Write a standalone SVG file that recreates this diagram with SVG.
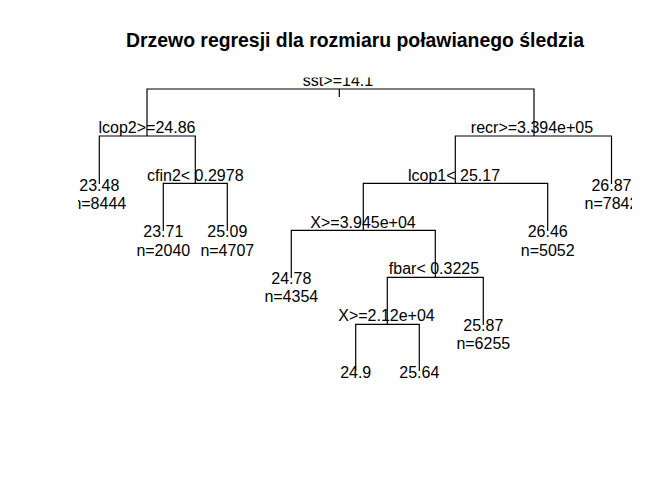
<svg xmlns="http://www.w3.org/2000/svg" width="672" height="480" viewBox="0 0 672 480">
<defs>
<clipPath id="plotclip"><rect x="78" y="77.5" width="554" height="306"/></clipPath>
<style>
.e{stroke:#000;stroke-width:1.2;fill:none}
text{font-family:"Liberation Sans",Arial,sans-serif;font-size:16px;fill:#000;text-anchor:middle}
.title{font-weight:bold;font-size:19.4px}
</style>
</defs>
<rect width="672" height="480" fill="#fff"/>
<text class="title" x="355" y="47">Drzewo regresji dla rozmiaru poławianego śledzia</text>
<g clip-path="url(#plotclip)">
<g id="connectors">
<path class="e" d="M339.3 89V97"/>
<path class="e" d="M147 136V89H534V136"/>
<path class="e" d="M99.3 184V136H195.3V183.3"/>
<path class="e" d="M163.3 231V183.3H227.3V231"/>
<path class="e" d="M455.3 183.3V136H611.5V184"/>
<path class="e" d="M363.3 230.3V183.3H547.7V231"/>
<path class="e" d="M291.3 278V230.3H435.3V277.3"/>
<path class="e" d="M387.3 324.3V277.3H483.3V325"/>
<path class="e" d="M355.7 371V324.3H419.3V371"/>
</g>
<g id="n_root"><text x="338" y="86">sst&gt;=14.1</text></g>
<g id="n_lcop2"><text x="147" y="133">lcop2&gt;=24.86</text></g>
<g id="n_leaf1"><text x="99.3" y="191">23.48</text><text x="99.3" y="209">n=8444</text></g>
<g id="n_cfin2"><text x="195.3" y="180.5">cfin2&lt; 0.2978</text></g>
<g id="n_leaf2"><text x="163.3" y="237">23.71</text><text x="163.3" y="256">n=2040</text></g>
<g id="n_leaf3"><text x="227.3" y="237">25.09</text><text x="227.3" y="256">n=4707</text></g>
<g id="n_recr"><text x="532" y="133">recr&gt;=3.394e+05</text></g>
<g id="n_leaf9"><text x="611.5" y="191">26.87</text><text x="611.5" y="209">n=7842</text></g>
<g id="n_lcop1"><text x="454" y="180.5">lcop1&lt; 25.17</text></g>
<g id="n_leaf8"><text x="547.7" y="237">26.46</text><text x="547.7" y="256">n=5052</text></g>
<g id="n_X1"><text x="363" y="227.5">X&gt;=3.945e+04</text></g>
<g id="n_leaf4"><text x="291.3" y="283.5">24.78</text><text x="291.3" y="302">n=4354</text></g>
<g id="n_fbar"><text x="434" y="274">fbar&lt; 0.3225</text></g>
<g id="n_leaf7"><text x="483.3" y="331">25.87</text><text x="483.3" y="349">n=6255</text></g>
<g id="n_X2"><text x="386.5" y="321">X&gt;=2.12e+04</text></g>
<g id="n_leaf5"><text x="355.7" y="377.5">24.9</text></g>
<g id="n_leaf6"><text x="419.3" y="377.5">25.64</text></g>
</g>
</svg>
